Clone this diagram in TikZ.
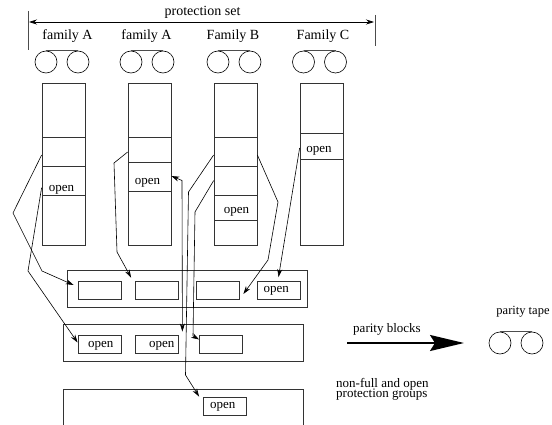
\documentclass[tikz,border=0pt]{standalone}
\usepackage{fontspec}
\setmainfont{Liberation Serif}
\usetikzlibrary{arrows.meta}
\definecolor{boxgray}{gray}{0.2}
\tikzset{
  x=1pt,y=-1pt,
  cell/.style={draw=boxgray,line width=0.75pt,rectangle,inner sep=0pt,minimum width=43pt},
  blockbox/.style={draw=boxgray,line width=0.8pt,rectangle,inner sep=0pt,minimum width=43pt,minimum height=18pt},
  groupbox/.style={draw=boxgray,line width=0.8pt,rectangle,inner sep=0pt,minimum width=240pt,minimum height=36.5pt},
  reel/.style={draw=black,line width=0.6pt,circle,inner sep=0pt,minimum size=22pt},
  reelband/.style={draw=black!70,line width=0.7pt},
  label/.style={inner sep=0pt,font=\fontsize{14}{14}\selectfont},
  small/.style={inner sep=0pt,font=\fontsize{13}{13}\selectfont},
  link/.style={draw=black,line width=0.6pt,-{Stealth[length=8pt,width=5pt]}},
  twolink/.style={draw=black,line width=0.6pt,{Stealth[length=8pt,width=5pt]}-{Stealth[length=8pt,width=5pt]}},
  dimline/.style={draw=black!70,line width=0.9pt}
}
\begin{document}
\begin{tikzpicture}
\useasboundingbox (0,0) rectangle (552,425);
% bracket
\coordinate (bl1) at (28,11); \coordinate (bl2) at (28,50);
\coordinate (br1) at (375,15); \coordinate (br2) at (375,46);
\coordinate (dl) at (29,22); \coordinate (dr) at (374,22);
\draw[dimline] (bl1) -- (bl2);
\draw[dimline] (br1) -- (br2);
\draw[twolink] (dl) -- (dr);
\node[label] (ps) at (202.5,12.5) {protection set};
\node[label] (f1) at (67.5,36) {family A};
\node[label] (f2) at (146.5,36) {family A};
\node[label] (f3) at (233,36) {Family B};
\node[label] (f4) at (323,36) {Family C};
% reels
\foreach \n/\a/\b in {1/46/78,2/131/163,3/218/250,4/303.5/335.5}{
  \node[reel] (t\n a) at (\a,62) {};
  \node[reel] (t\n b) at (\b,62) {};
  \draw[reelband] (t\n a.north) -- (t\n b.north);
}
% column 1
\node[cell,minimum height=54pt] (c1a) at (63.5,110) {};
\node[cell,minimum height=29pt] (c1b) at (63.5,151.5) {};
\node[cell,minimum height=29pt] (c1c) at (63.5,180.5) {};
\node[cell,minimum height=50pt] (c1d) at (63.5,220) {};
% column 2
\node[cell,minimum height=54pt] (c2a) at (149.5,110) {};
\node[cell,minimum height=25pt] (c2b) at (149.5,149.5) {};
\node[cell,minimum height=29pt] (c2c) at (149.5,176.5) {};
\node[cell,minimum height=54pt] (c2d) at (149.5,218) {};
% column 3
\node[cell,minimum height=54pt] (c3a) at (235.5,110) {};
\node[cell,minimum height=29pt] (c3b) at (235.5,151.5) {};
\node[cell,minimum height=29pt] (c3c) at (235.5,180.5) {};
\node[cell,minimum height=25pt] (c3d) at (235.5,207.5) {};
\node[cell,minimum height=25pt] (c3e) at (235.5,232.5) {};
% column 4
\node[cell,minimum height=50pt] (c4a) at (321.5,108) {};
\node[cell,minimum height=26pt] (c4b) at (321.5,146) {};
\node[cell,minimum height=86pt] (c4c) at (321.5,202) {};
\node[small] (o1) at (61.5,189.5) {open};
\node[small] (o2) at (147.5,182.5) {open};
\node[small] (o3) at (236.5,211.5) {open};
\node[small] (o4) at (319,150.5) {open};
% groups
\node[groupbox] (g1) at (187,288.7) {};
\node[groupbox] (g2) at (183.5,343) {};
\coordinate (g3bl) at (63.5,425); \coordinate (g3tl) at (63.5,389.5);
\coordinate (g3tr) at (303.5,389.5); \coordinate (g3br) at (303.5,425);
\draw[draw=boxgray,line width=0.8pt] (g3bl) -- (g3tl) -- (g3tr) -- (g3br);
% blocks
\node[blockbox] (b1) at (99.5,290) {};
\node[blockbox] (b2) at (156.5,290) {};
\node[blockbox] (b3) at (217.5,290) {};
\node[blockbox] (b4) at (278.5,290) {};
\node[blockbox] (b5) at (99.5,344.5) {};
\node[blockbox] (b6) at (156.5,344.5) {};
\node[blockbox] (b7) at (221,344.5) {};
\node[blockbox] (b8) at (225,406) {};
\node[small] (o5) at (276.3,290.5) {open};
\node[small] (o6) at (100.7,345.5) {open};
\node[small] (o7) at (161.7,345.5) {open};
\node[small] (o8) at (222.7,406.5) {open};
% connectors
\draw[link] ([yshift=-3.5pt]c1b.west) -- (13,213) -- (42,271) -- ([xshift=-4pt,yshift=5pt]b1.west);
\draw[link] ([yshift=-22pt]c1c.north west) -- (28,271) -- ([yshift=2pt]b5.west);
\draw[link] ([yshift=-2.5pt]c2b.west) -- (114,163) -- (117,252) -- ([xshift=-3.5pt,yshift=3pt]b2.north west);
\draw[link] ([yshift=-3.5pt]c3b.west) -- (188.5,192) -- (185.5,375) -- ([xshift=-4pt]b8.north west);
\draw[link] ([yshift=-15pt]c3c.north west) -- (195,212) -- (193,336) -- ([yshift=5pt]b7.west);
\draw[twolink] ([yshift=0.5pt]c2c.east) -- (182,180.5) -- ([xshift=4pt,yshift=3.5pt]b6.north east);
\draw[link] ([yshift=-3.5pt]c3b.east) -- (278,202) -- (268,260) -- ([xshift=4pt,yshift=-4pt]b3.east);
\draw[link] ([yshift=-2pt]c4b.west) -- ([yshift=3.5pt]b4.north);
% parity
\coordinate (pa) at (347,343); \coordinate (pb) at (464,343);
\draw[draw=black,line width=2pt,-{Stealth[length=34pt,width=16pt,inset=5pt]}] (pa) -- (pb);
\node[small] (pl) at (387,329) {parity blocks};
\node[small,font=\fontsize{12.5}{12.5}\selectfont] (pt) at (523,312) {parity tape};
\node[reel] (pra) at (500,343) {};
\node[reel] (prb) at (532,343) {};
\draw[reelband] (pra.north) -- (prb.north);
\node[small,align=left,anchor=north west,font=\fontsize{13}{10}\selectfont] (ng) at (336,378) {non-full and open\\[-2pt]protection groups};
\end{tikzpicture}
\end{document}
